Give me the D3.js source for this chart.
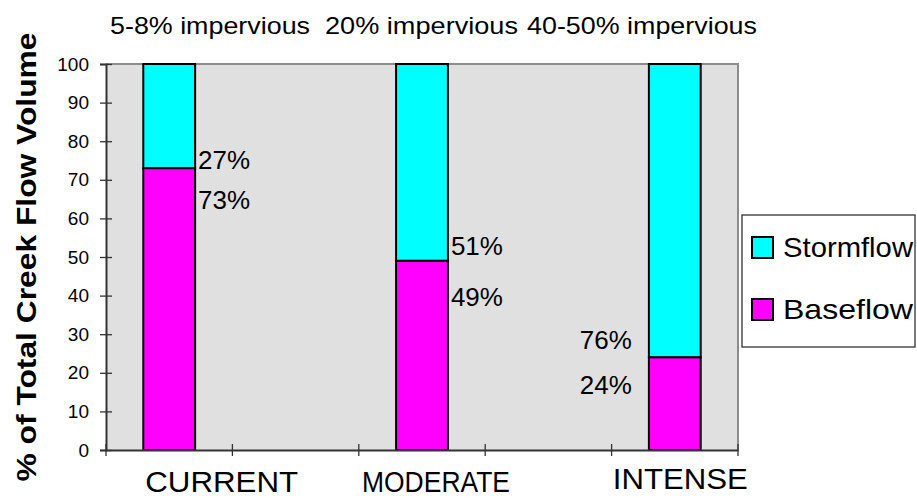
<!DOCTYPE html>
<html>
<head>
<meta charset="utf-8">
<script src="https://cdn.jsdelivr.net/npm/d3@7"></script>
<style>
  html, body { margin: 0; padding: 0; background: #ffffff; }
  svg { display: block; font-family: Arial, "Liberation Sans", sans-serif; }
</style>
</head>
<body>
<svg id="chart" width="917" height="498"></svg>
<script>
// ---- data ----
const slots = ["CURRENT", "gap1", "MODERATE", "gap2", "INTENSE"];
const categories = ["CURRENT", "MODERATE", "INTENSE"];
const baseflow = [73, 49, 24];
const stormflow = [27, 51, 76];
const impervious = ["5-8% impervious", "20% impervious", "40-50% impervious"];
const yTicks = [0, 10, 20, 30, 40, 50, 60, 70, 80, 90, 100];
const seriesNames = ["Stormflow", "Baseflow"];
const seriesColors = ["#00ffff", "#ff00ff"];

// ---- layout ----
const svg = d3.select("#chart");
const plot = { left: 106, right: 738, top: 64, bottom: 450 };

const x = d3.scaleBand().domain(slots).range([plot.left, plot.right]).padding(0);
const y = d3.scaleLinear().domain([0, 100]).range([plot.bottom, plot.top]);
const barW = x.bandwidth() * 0.41;

// plot background
svg.append("rect")
  .attr("x", plot.left).attr("y", plot.top)
  .attr("width", plot.right - plot.left).attr("height", plot.bottom - plot.top)
  .attr("fill", "#e0e0e0");
// top & right border
svg.append("path")
  .attr("d", `M${plot.left},${plot.top}H${plot.right}V${plot.bottom}`)
  .attr("fill", "none").attr("stroke", "#8c8c8c").attr("stroke-width", 2);

// bars
const rows = categories.map((c, i) => ({ c, base: baseflow[i], storm: stormflow[i] }));
const g = svg.append("g");
rows.forEach(r => {
  const cx = x(r.c) + x.bandwidth() / 2;
  g.append("rect")
    .attr("x", cx - barW / 2).attr("y", y(r.base + r.storm))
    .attr("width", barW).attr("height", y(r.base) - y(r.base + r.storm))
    .attr("fill", seriesColors[0]).attr("stroke", "#000").attr("stroke-width", 2);
  g.append("rect")
    .attr("x", cx - barW / 2).attr("y", y(r.base))
    .attr("width", barW).attr("height", y(0) - y(r.base))
    .attr("fill", seriesColors[1]).attr("stroke", "#000").attr("stroke-width", 2);
});

// y axis
const yAxis = svg.append("g")
  .attr("transform", `translate(${plot.left},0)`)
  .call(d3.axisLeft(y).tickValues(yTicks).tickSize(6).tickPadding(11));
yAxis.select(".domain").attr("stroke", "#333").attr("stroke-width", 2);
yAxis.selectAll(".tick line").attr("x1", 6).attr("x2", -6).attr("stroke", "#333").attr("stroke-width", 1.3);
yAxis.selectAll(".tick text")
  .attr("font-size", 19).attr("fill", "#000")
  .attr("font-family", "Arial, 'Liberation Sans', sans-serif");

// x axis
const xAxis = svg.append("g")
  .attr("transform", `translate(0,${plot.bottom})`)
  .call(d3.axisBottom(x).tickValues([]).tickSizeOuter(0));
xAxis.select(".domain").attr("stroke", "#333").attr("stroke-width", 2);
const bounds = slots.map(s => x(s)).concat([plot.right]);
xAxis.selectAll("line.sep").data(bounds).enter().append("line")
  .attr("class", "sep")
  .attr("x1", d => d).attr("x2", d => d)
  .attr("y1", -6).attr("y2", 6)
  .attr("stroke", "#333").attr("stroke-width", 1.3);

// category labels (offset from band center as in the original)
const catDx = [-24, -60, -62];
const catBase = [492, 492, 489];
const catLen = [153, 148, 135];
categories.forEach((c, i) => {
  svg.append("text")
    .attr("x", x(c) + x.bandwidth() / 2 + catDx[i])
    .attr("y", catBase[i])
    .attr("font-size", 29)
    .attr("textLength", catLen[i]).attr("lengthAdjust", "spacingAndGlyphs")
    .text(c);
});

// impervious labels on top
const impX = [110, 325, 527];
const impLen = [200, 193, 230];
impervious.forEach((t, i) => {
  svg.append("text")
    .attr("x", impX[i]).attr("y", 34)
    .attr("font-size", 24)
    .attr("textLength", impLen[i]).attr("lengthAdjust", "spacingAndGlyphs")
    .text(t);
});

// percent labels: right of bar for first two, left of bar for the last
const pctSide = [1, 1, -1];
const stormDy = [1, -6, -8];
const baseDy = [41, 45, 37];
rows.forEach((r, i) => {
  const cx = x(r.c) + x.bandwidth() / 2;
  const right = pctSide[i] > 0;
  const lx = right ? cx + barW / 2 + 3 : cx - barW / 2 - 17;
  const anchor = right ? "start" : "end";
  svg.append("text")
    .attr("x", lx).attr("y", y(r.base) + stormDy[i])
    .attr("text-anchor", anchor)
    .attr("font-size", 25).attr("textLength", 52).attr("lengthAdjust", "spacingAndGlyphs")
    .text(r.storm + "%");
  svg.append("text")
    .attr("x", lx).attr("y", y(r.base) + baseDy[i])
    .attr("text-anchor", anchor)
    .attr("font-size", 25).attr("textLength", 52).attr("lengthAdjust", "spacingAndGlyphs")
    .text(r.base + "%");
});

// y title
svg.append("text")
  .attr("transform", `translate(36,257) rotate(-90)`)
  .attr("text-anchor", "middle")
  .attr("font-size", 28).attr("font-weight", "bold")
  .attr("textLength", 449).attr("lengthAdjust", "spacingAndGlyphs")
  .text("% of Total Creek Flow Volume");

// legend
const leg = svg.append("g");
leg.append("rect")
  .attr("x", 742).attr("y", 215).attr("width", 173).attr("height", 132)
  .attr("fill", "#fff").attr("stroke", "#333").attr("stroke-width", 1.3);
seriesNames.forEach((n, i) => {
  const yy = 237 + i * 62;
  leg.append("rect")
    .attr("x", 752).attr("y", yy).attr("width", 21).attr("height", 21)
    .attr("fill", seriesColors[i]).attr("stroke", "#000").attr("stroke-width", 2);
  leg.append("text")
    .attr("x", 783).attr("y", yy + 20)
    .attr("font-size", 28).attr("textLength", 130).attr("lengthAdjust", "spacingAndGlyphs")
    .text(n);
});
</script>
</body>
</html>
